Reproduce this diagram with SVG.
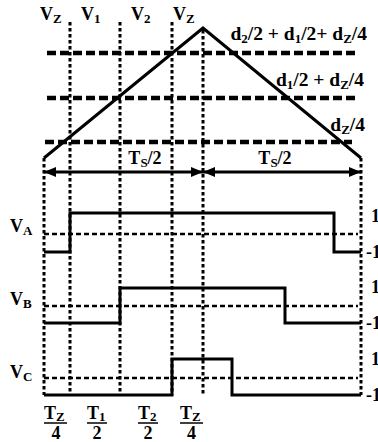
<svg xmlns="http://www.w3.org/2000/svg" width="378" height="442" viewBox="0 0 378 442">
<style>
.t{font-family:"Liberation Serif","Times New Roman",serif;font-weight:bold;fill:#000}
.lbl{font-size:18px}
.big{font-size:19.5px}
.sub{font-size:13px}
.dot{stroke:#000;stroke-width:3;stroke-dasharray:3.5 2.5;fill:none}
.thick{stroke:#000;stroke-width:4.5;stroke-dasharray:9 4;fill:none}
.mid{stroke:#000;stroke-width:2.3;stroke-dasharray:5 3;fill:none}
.sol{stroke:#000;stroke-width:3;fill:none}
.bar{stroke:#000;stroke-width:1.5}
</style>
<defs>
<marker id="ah" viewBox="0 0 12 10" refX="12" refY="5" markerWidth="12" markerHeight="10" markerUnits="userSpaceOnUse" orient="auto-start-reverse">
<path d="M0,0 L12,5 L0,10 z" fill="#000"/>
</marker>
</defs>
<rect width="378" height="442" fill="#fff"/>
<g id="grid">
<line class="dot" x1="70" y1="22" x2="70" y2="395"/>
<line class="dot" x1="120" y1="22" x2="120" y2="395"/>
<line class="dot" x1="172" y1="22" x2="172" y2="395"/>
<line class="dot" x1="203" y1="30" x2="203" y2="395"/>
<line class="dot" x1="44" y1="158" x2="44" y2="395"/>
<line class="dot" x1="361" y1="158" x2="361" y2="395"/>
<line class="thick" x1="47" y1="53" x2="357" y2="53"/>
<line class="thick" x1="47" y1="98" x2="357" y2="98"/>
<line class="thick" x1="45" y1="142" x2="352" y2="142"/>
<line class="mid" x1="44" y1="234" x2="358" y2="234"/>
<line class="mid" x1="44" y1="306" x2="358" y2="306"/>
<line class="mid" x1="44" y1="378" x2="358" y2="378"/>
</g>
<g id="carrier">
<polyline class="sol" points="44,158 203,28 361,158"/>
</g>
<g id="connectors">
<line class="sol" x1="44" y1="172" x2="203" y2="172" marker-start="url(#ah)" marker-end="url(#ah)"/>
<line class="sol" x1="203" y1="172" x2="361" y2="172" marker-start="url(#ah)" marker-end="url(#ah)"/>
</g>
<g id="VA">
<polyline class="sol" points="44,252 70,252 70,213 334,213 334,252 361,252"/>
<text class="t lbl" x="10" y="232">V<tspan class="sub" dy="3">A</tspan></text>
</g>
<g id="VB">
<polyline class="sol" points="44,323 120,323 120,288 285,288 285,323 361,323"/>
<text class="t lbl" x="10" y="305">V<tspan class="sub" dy="3">B</tspan></text>
</g>
<g id="VC">
<polyline class="sol" points="44,395 172,395 172,359 232,359 232,395 361,395"/>
<text class="t lbl" x="10" y="378">V<tspan class="sub" dy="3">C</tspan></text>
</g>
<g id="levels">
<text class="t lbl" x="371" y="222">1</text>
<text class="t lbl" x="366" y="258">-1</text>
<text class="t lbl" x="371" y="293">1</text>
<text class="t lbl" x="366" y="329">-1</text>
<text class="t lbl" x="371" y="365">1</text>
<text class="t lbl" x="366" y="401">-1</text>
</g>
<g id="top-labels">
<text class="t lbl" x="40" y="20">V<tspan class="sub" dy="3">Z</tspan></text>
<text class="t lbl" x="81" y="20">V<tspan class="sub" dy="3">1</tspan></text>
<text class="t lbl" x="131" y="20">V<tspan class="sub" dy="3">2</tspan></text>
<text class="t lbl" x="173" y="20">V<tspan class="sub" dy="3">Z</tspan></text>
</g>
<g id="level-labels">
<text class="t big" x="367" y="40" text-anchor="end">d<tspan class="sub" dy="3">2</tspan><tspan dy="-3">/2 + d</tspan><tspan class="sub" dy="3">1</tspan><tspan dy="-3">/2+ d</tspan><tspan class="sub" dy="3">Z</tspan><tspan dy="-3">/4</tspan></text>
<text class="t big" x="364" y="86" text-anchor="end">d<tspan class="sub" dy="3">1</tspan><tspan dy="-3">/2 + d</tspan><tspan class="sub" dy="3">Z</tspan><tspan dy="-3">/4</tspan></text>
<text class="t big" x="365" y="131" text-anchor="end">d<tspan class="sub" dy="3">Z</tspan><tspan dy="-3">/4</tspan></text>
</g>
<g id="period-labels">
<text class="t lbl" x="145" y="164" text-anchor="middle">T<tspan class="sub" dy="3">S</tspan><tspan dy="-3">/2</tspan></text>
<text class="t lbl" x="275" y="164" text-anchor="middle">T<tspan class="sub" dy="3">S</tspan><tspan dy="-3">/2</tspan></text>
</g>
<g id="fractions">
<text class="t lbl" x="44" y="419">T<tspan class="sub" dy="2">Z</tspan></text>
<line class="bar" x1="44" y1="423" x2="67" y2="423"/>
<text class="t lbl" x="56" y="439" text-anchor="middle">4</text>
<text class="t lbl" x="87" y="419">T<tspan class="sub" dy="2">1</tspan></text>
<line class="bar" x1="87" y1="423" x2="107" y2="423"/>
<text class="t lbl" x="97" y="439" text-anchor="middle">2</text>
<text class="t lbl" x="138" y="419">T<tspan class="sub" dy="2">2</tspan></text>
<line class="bar" x1="138" y1="423" x2="158" y2="423"/>
<text class="t lbl" x="148" y="439" text-anchor="middle">2</text>
<text class="t lbl" x="180" y="419">T<tspan class="sub" dy="2">Z</tspan></text>
<line class="bar" x1="180" y1="423" x2="203" y2="423"/>
<text class="t lbl" x="191.5" y="439" text-anchor="middle">4</text>
</g>
</svg>
